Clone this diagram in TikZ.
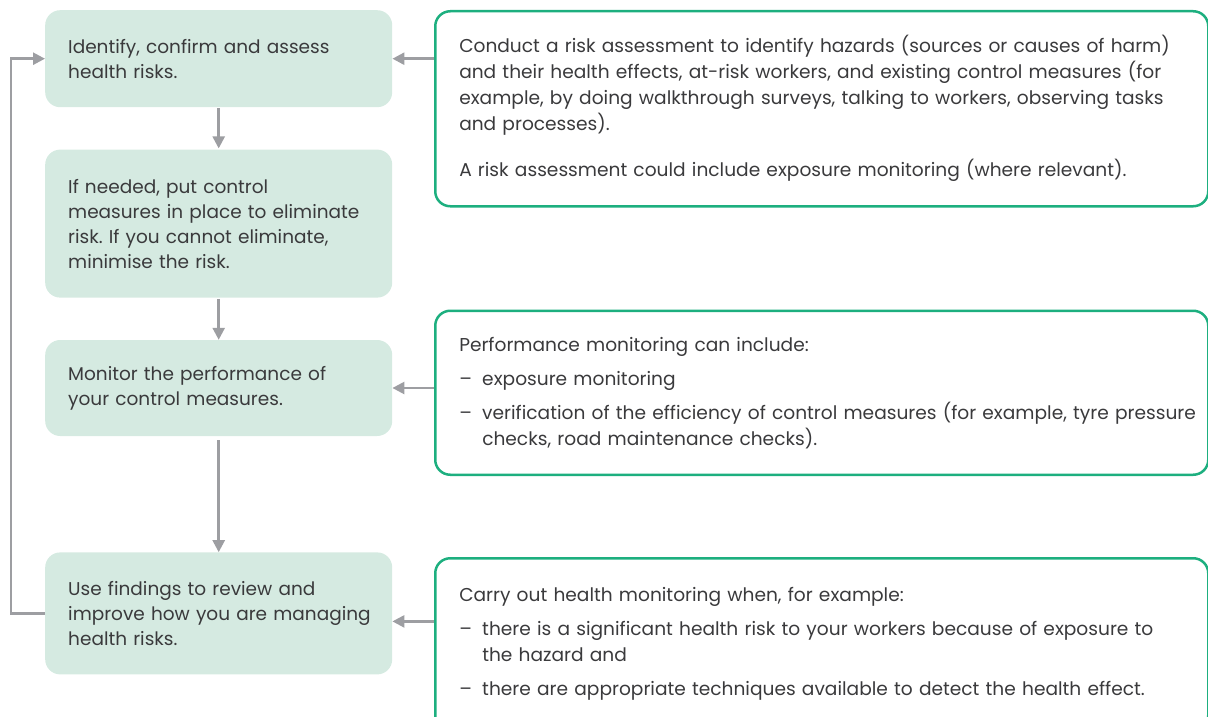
\documentclass[tikz,border=0pt]{standalone}
\usepackage{fontspec}
\setmainfont{Poppins}
\usepackage{tikz}
\usetikzlibrary{arrows.meta,positioning}
\usepackage{xcolor}
\definecolor{stepfill}{HTML}{D5EAE1}
\definecolor{notegreen}{HTML}{1DAF7F}
\definecolor{arrowgray}{HTML}{9D9EA2}
\definecolor{textgray}{HTML}{3A3A3C}
\newcommand{\dashitem}{\makebox[23pt][l]{–}}
\newcommand{\dashcont}{\hspace*{23pt}}
\frenchspacing

\begin{document}
\begin{tikzpicture}[x=1pt,y=-1pt,text=textgray]
	\useasboundingbox (0,0) rectangle (1208,717);
	\begin{scope}[every node/.style={rectangle,rounded corners=15pt,inner ysep=0pt,align=left}]
		\node[fill=stepfill,anchor=north west,inner xsep=23pt,text width=301pt,minimum height=97pt,font=\fontsize{18.5}{25}\selectfont] (Identify) at (45,10) {Identify, confirm and assess\\health risks.};
		\node[below=42pt of Identify,fill=stepfill,inner xsep=23pt,text width=301pt,minimum height=148pt,font=\fontsize{18.5}{25}\selectfont] (Control) {If needed, put control\\\mbox{measures in place to eliminate}\\\mbox{risk. If you cannot eliminate,}\\minimise the risk.};
		\node[below=42pt of Control,fill=stepfill,inner xsep=23pt,text width=301pt,minimum height=96pt,font=\fontsize{18.5}{25}\selectfont] (Monitor) {Monitor the performance of\\your control measures.};
		\node[below=116pt of Monitor,fill=stepfill,inner xsep=23pt,text width=301pt,minimum height=122pt,font=\fontsize{18.5}{25}\selectfont] (Review) {Use findings to review and\\\mbox{improve how you are managing}\\health risks.};

		\node[draw=notegreen,line width=2.5pt,anchor=north west,inner xsep=24pt,text width=725pt,minimum height=195pt,font=\fontsize{18.6}{26}\selectfont] (Hazards) at (434,10) {\mbox{Conduct a risk assessment to identify hazards (sources or causes of harm)}\\\mbox{and their health effects, at-risk workers, and existing control measures (for}\\\mbox{example, by doing walkthrough surveys, talking to workers, observing tasks}\\and processes).\\[20pt]\mbox{A risk assessment could include exposure monitoring (where relevant).}};
		\node[below=102pt of Hazards,draw=notegreen,line width=2.5pt,inner xsep=24pt,text width=725pt,minimum height=164pt,font=\fontsize{18.6}{26}\selectfont] (Performance) {Performance monitoring can include:\\[8pt]\dashitem exposure monitoring\\[8pt]\mbox{\dashitem verification of the efficiency of control measures (for example, tyre pressure}\\\dashcont checks, road maintenance checks).};
		\node[below=81pt of Performance,draw=notegreen,line width=2.5pt,inner xsep=24pt,text width=725pt,minimum height=172pt,font=\fontsize{18.6}{26}\selectfont] (Health) {Carry out health monitoring when, for example:\\[8pt]\mbox{\dashitem there is a significant health risk to your workers because of exposure to}\\\dashcont the hazard and\\[8pt]\mbox{\dashitem there are appropriate techniques available to detect the health effect.}};
	\end{scope}

	\begin{scope}[every path/.style={draw=arrowgray,line width=2.5pt,-{Triangle[length=12pt,width=12pt]}}]
		\draw[shorten <=1pt,shorten >=1pt] (Identify) -- (Control);
		\draw[shorten <=1pt] (Control) -- (Monitor);
		\draw[shorten <=4pt] (Monitor) -- (Review);
		\draw (Hazards.west |- Identify.east) -- (Identify.east);
		\draw (Performance.west |- Monitor.east) -- (Monitor.east);
		\coordinate (ReviewIn) at ([yshift=-8pt]Review.east);
		\draw (ReviewIn -| Health.west) -- (ReviewIn);
		\draw (Review.west) -- ++(-34,0) |- (Identify.west);
	\end{scope}
\end{tikzpicture}
\end{document}
